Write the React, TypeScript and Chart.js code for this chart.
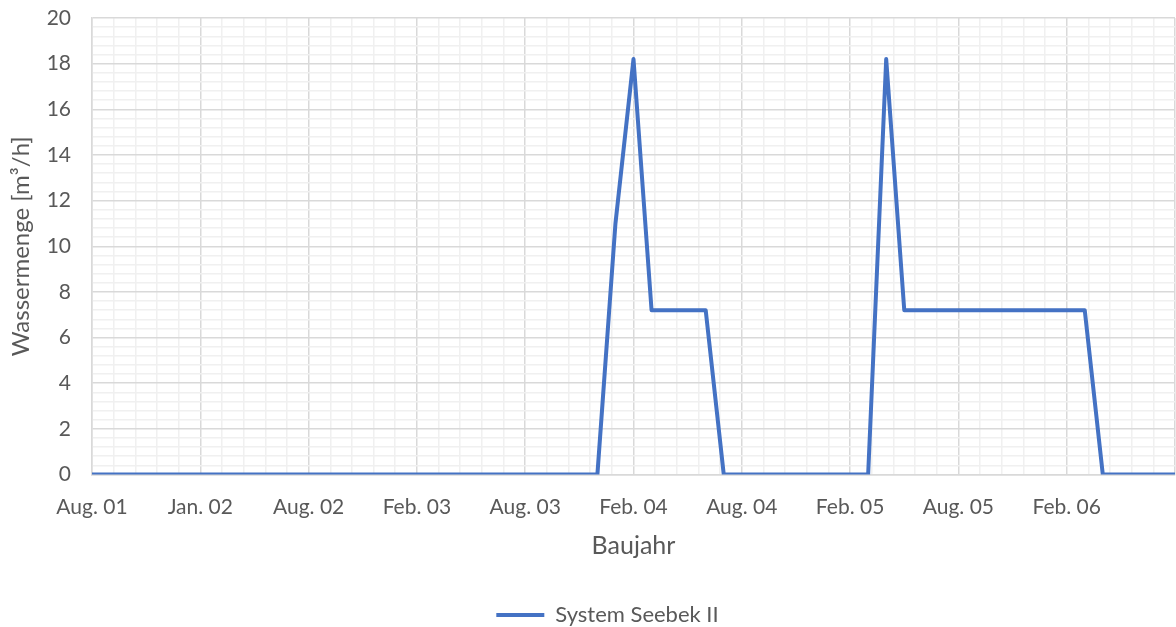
import React, { useEffect, useRef } from "react";
import { Chart, registerables } from "chart.js";

Chart.register(...registerables);

const xTickLabels = ["Aug. 01", "Jan. 02", "Aug. 02", "Feb. 03", "Aug. 03", "Feb. 04", "Aug. 04", "Feb. 05", "Aug. 05", "Feb. 06"];
const yTickLabels = [0, 2, 4, 6, 8, 10, 12, 14, 16, 18, 20];
const seriesName = "System Seebek II";
const seriesValues = [
  0, 0, 0, 0, 0, 0, 0, 0, 0, 0,
  0, 0, 0, 0, 0, 0, 0, 0, 0, 0,
  0, 0, 0, 0, 0, 0, 0, 0, 0, 11,
  18.2, 7.2, 7.2, 7.2, 7.2, 0, 0, 0, 0, 0,
  0, 0, 0, 0, 18.2, 7.2, 7.2, 7.2, 7.2, 7.2,
  7.2, 7.2, 7.2, 7.2, 7.2, 7.2, 0, 0, 0, 0,
  0,
];
const xTitle = "Baujahr";
const yTitle = "Wassermenge [m³/h]";

const MINOR_PER_MAJOR = 5;
const FONT = "Lato";
const TEXT = "#595959";
const MAJOR = "#d9d9d9";
const MINOR = "#f0f0f0";

const legendShift = {
  id: "legendShift",
  afterLayout(chart: any) {
    const l = chart.legend;
    if (l) {
      l.left += 20;
      l.right += 20;
    }
  },
};

export default function App() {
  const ref = useRef<HTMLCanvasElement | null>(null);
  useEffect(() => {
    if (!ref.current) return;
    const xMax = seriesValues.length - 1;
    const yMax = yTickLabels[yTickLabels.length - 1];
    const xMajorCount = xTickLabels.length;
    const yMajorCount = yTickLabels.length - 1;
    const chart = new Chart(ref.current, {
      type: "line",
      data: {
        datasets: [
          {
            label: seriesName,
            data: seriesValues.map((v, i) => ({ x: i, y: v })),
            borderColor: "#4472C4",
            backgroundColor: "#4472C4",
            borderWidth: 4,
            pointRadius: 0,
            pointHoverRadius: 0,
            pointStyle: "line",
            tension: 0,
            borderJoinStyle: "round",
            borderCapStyle: "butt",
          },
        ],
      },
      plugins: [legendShift],
      options: {
        responsive: false,
        animation: false,
        devicePixelRatio: 1,
        layout: { padding: { left: 0, right: 1, top: 18, bottom: -9 } },
        plugins: {
          tooltip: { enabled: false },
          legend: {
            position: "bottom",
            labels: {
              usePointStyle: true,
              pointStyleWidth: 48,
              padding: 2,
              color: TEXT,
              font: { family: FONT, size: 22 },
            },
          },
        },
        scales: {
          x: {
            type: "linear",
            min: 0,
            max: xMax,
            afterBuildTicks: (scale: any) => {
              const n = xMajorCount * MINOR_PER_MAJOR;
              scale.ticks = Array.from({ length: n + 1 }, (_, k) => ({ value: (k * xMax) / n }));
            },
            afterFit: (scale: any) => {
              scale.height = 127.5;
              scale.paddingLeft = 0;
              scale.paddingRight = 0;
            },
            ticks: {
              autoSkip: false,
              maxRotation: 0,
              minRotation: 0,
              padding: 20,
              color: TEXT,
              font: { family: FONT, size: 21 },
              callback: (_v: any, index: number) =>
                index % MINOR_PER_MAJOR === 0 ? xTickLabels[index / MINOR_PER_MAJOR] ?? "" : "",
            },
            grid: {
              drawTicks: false,
              lineWidth: 1.5,
              color: (ctx: any) => (ctx.index % MINOR_PER_MAJOR === 0 ? MAJOR : MINOR),
            },
            border: { display: true, color: MAJOR, width: 1.5 },
            title: {
              display: true,
              text: xTitle,
              color: TEXT,
              font: { family: FONT, size: 25 },
              padding: { top: 0, bottom: 41 },
            },
          },
          y: {
            type: "linear",
            min: 0,
            max: yMax,
            afterBuildTicks: (scale: any) => {
              const n = yMajorCount * MINOR_PER_MAJOR;
              scale.ticks = Array.from({ length: n + 1 }, (_, k) => ({ value: (k * yMax) / n }));
            },
            afterFit: (scale: any) => {
              scale.width = 92;
              scale.paddingTop = 0;
              scale.paddingBottom = 0;
            },
            ticks: {
              autoSkip: false,
              padding: 21,
              color: TEXT,
              font: { family: FONT, size: 21 },
              callback: (_v: any, index: number) =>
                index % MINOR_PER_MAJOR === 0 ? String(yTickLabels[index / MINOR_PER_MAJOR]) : "",
            },
            grid: {
              drawTicks: false,
              lineWidth: 1.5,
              color: (ctx: any) => (ctx.index % MINOR_PER_MAJOR === 0 ? MAJOR : MINOR),
            },
            border: { display: true, color: MAJOR, width: 1.5 },
            title: {
              display: true,
              text: yTitle,
              color: TEXT,
              font: { family: FONT, size: 24 },
              padding: { top: 7, bottom: 0 },
            },
          },
        },
      },
    });
    return () => chart.destroy();
  }, []);
  return (
    <div style={{ position: "absolute", left: 0, top: 0, width: 1176, height: 627, background: "#fff" }}>
      <canvas ref={ref} width={1176} height={627} style={{ display: "block" }} />
    </div>
  );
}
